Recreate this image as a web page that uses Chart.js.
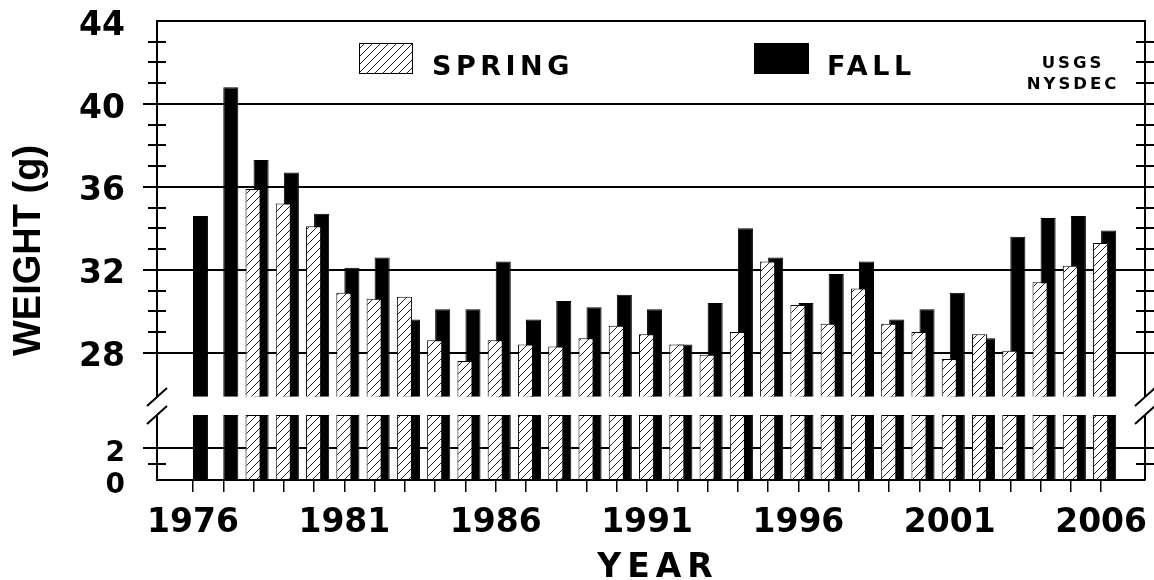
<!DOCTYPE html>
<html>
<head>
<meta charset="utf-8">
<script src="https://cdn.jsdelivr.net/npm/chart.js@4.4.1/dist/chart.umd.min.js"></script>
<style>
  html, body { margin: 0; padding: 0; background: #fff; }
  #chart { display: block; }
</style>
</head>
<body>
<canvas id="chart" width="1154" height="580"></canvas>
<script>
const years = [1976, 1977, 1978, 1979, 1980, 1981, 1982, 1983, 1984, 1985, 1986,
  1987, 1988, 1989, 1990, 1991, 1992, 1993, 1994, 1995, 1996, 1997, 1998, 1999,
  2000, 2001, 2002, 2003, 2004, 2005, 2006];
const spring = [null, null, 35.9, 35.2, 34.1, 30.9, 30.6, 30.7, 28.6, 27.6, 28.6,
  28.4, 28.3, 28.7, 29.3, 28.9, 28.4, 27.9, 29.0, 32.4, 30.3, 29.4, 31.1, 29.4,
  29.0, 27.7, 28.9, 28.1, 31.4, 32.2, 33.3];
const fall = [34.6, 40.8, 37.3, 36.7, 34.7, 32.1, 32.6, 29.6, 30.1, 30.1, 32.4,
  29.6, 30.5, 30.2, 30.8, 30.1, 28.4, 30.4, 34.0, 32.6, 30.4, 31.8, 32.4, 29.6,
  30.1, 30.9, 28.7, 33.6, 34.5, 34.6, 33.9];

const yearTickLabels = [1976, 1981, 1986, 1991, 1996, 2001, 2006];
const upperTickLabels = [28, 32, 36, 40, 44];
const upperMinorTicks = [29, 30, 31, 33, 34, 35, 37, 38, 39, 41, 42, 43];
const lowerTickLabels = [0, 2];
const lowerMinorTicks = [1];

// broken value axis: lower piece 0..4, upper piece 25..44
const LOWER_MAX = 4;
const UPPER_MIN = 25;
const UPPER_MAX = 44;
const UPPER_BASE = 25.88;   // bars of the upper piece start here, leaving the break gap

const X_MIN = 1974.81;
const X_MAX = 2007.45;
const BAR_SHIFT = 0.116;    // bar pairs sit a little right of the year ticks

const springLow = spring.map(v => v == null ? null : Math.min(v, LOWER_MAX));
const fallLow = fall.map(v => v == null ? null : Math.min(v, LOWER_MAX));

const CLEAR = 'rgba(0,0,0,0)';
const BOLD = 'DejaVu Sans';

function hatch() {
  const c = document.createElement('canvas');
  c.width = 8; c.height = 8;
  const g = c.getContext('2d');
  g.fillStyle = '#fff';
  g.fillRect(0, 0, 8, 8);
  g.strokeStyle = '#222';
  g.lineWidth = 1;
  g.beginPath();
  g.moveTo(0, 8); g.lineTo(8, 0);
  g.moveTo(-1, 1); g.lineTo(1, -1);
  g.moveTo(7, 9); g.lineTo(9, 7);
  g.stroke();
  return g.createPattern(c, 'repeat');
}
const springFill = hatch();

const barCommon = {
  xAxisID: 'xb',
  categoryPercentage: 0.53,
  barPercentage: 1.88,
  borderColor: '#000',
  borderWidth: 1,
};

// y axes: fixed width, and no extra room for half labels above/below
function fitY(s) {
  s.width = 157;
  s.paddingTop = 0;
  s.paddingBottom = 0;
}

const decor = {
  id: 'decor',
  afterDatasetsDraw(chart) {
    const { ctx, chartArea: a, scales: { yU, yL } } = chart;
    const gapTop = Math.round(yU.getPixelForValue(UPPER_BASE));
    const gapBottom = Math.round(yU.bottom);
    ctx.save();
    ctx.strokeStyle = '#000';
    ctx.lineWidth = 2;
    ctx.beginPath();
    [a.left, a.right].forEach(x => {
      ctx.moveTo(x, a.top); ctx.lineTo(x, gapTop);
      ctx.moveTo(x, gapBottom); ctx.lineTo(x, a.bottom);
    });
    ctx.moveTo(a.left - 1, a.top); ctx.lineTo(a.right + 1, a.top);
    ctx.stroke();

    // break marks
    ctx.beginPath();
    [a.left, a.right].forEach(x => {
      [gapTop, gapBottom].forEach(y => {
        ctx.moveTo(x - 10, y + 9); ctx.lineTo(x + 10, y - 9);
      });
    });
    ctx.stroke();

    // minor ticks cross both axes, major ones poke out on the right
    ctx.beginPath();
    const marks = [];
    upperMinorTicks.forEach(v => marks.push([yU.getPixelForValue(v), true]));
    lowerMinorTicks.forEach(v => marks.push([yL.getPixelForValue(v), true]));
    upperTickLabels.filter(v => v < UPPER_MAX).forEach(v => marks.push([yU.getPixelForValue(v), false]));
    lowerTickLabels.filter(v => v > 0).forEach(v => marks.push([yL.getPixelForValue(v), false]));
    marks.forEach(([py, minor]) => {
      const y = Math.round(py);
      if (minor) { ctx.moveTo(a.left - 9, y); ctx.lineTo(a.left + 9, y); }
      ctx.moveTo(a.right - 9, y); ctx.lineTo(a.right + 9, y);
    });
    ctx.stroke();
    ctx.restore();
  },
  afterDraw(chart) {
    const { ctx, chartArea: a } = chart;
    ctx.save();
    ctx.fillStyle = '#000';

    // y title
    ctx.save();
    ctx.translate(30, (a.top + a.bottom) / 2);
    ctx.rotate(-Math.PI / 2);
    ctx.font = 'bold 38px "Liberation Sans"';
    ctx.textAlign = 'center';
    ctx.textBaseline = 'middle';
    ctx.fillText('WEIGHT (g)', 0, 0);
    ctx.restore();

    // x title
    ctx.font = 'bold 33px "' + BOLD + '"';
    ctx.letterSpacing = '6px';
    ctx.textAlign = 'center';
    ctx.textBaseline = 'alphabetic';
    ctx.fillText('YEAR', 658, 577);

    // legend
    ctx.fillStyle = springFill;
    ctx.fillRect(359, 43, 54, 31);
    ctx.strokeStyle = '#000';
    ctx.lineWidth = 1;
    ctx.strokeRect(359.5, 43.5, 53, 30);
    ctx.fillStyle = '#000';
    ctx.fillRect(754, 43, 55, 31);
    ctx.font = 'bold 27px "' + BOLD + '"';
    ctx.letterSpacing = '4.5px';
    ctx.textAlign = 'left';
    ctx.fillText('SPRING', 432, 75);
    ctx.fillText('FALL', 827, 75);

    ctx.font = 'bold 16.5px "' + BOLD + '"';
    ctx.letterSpacing = '3px';
    ctx.textAlign = 'center';
    ctx.fillText('USGS', 1073, 68);
    ctx.fillText('NYSDEC', 1073, 89);
    ctx.restore();
  }
};

const ctx = document.getElementById('chart').getContext('2d');
const chart = new Chart(ctx, {
  type: 'bar',
  data: {
    labels: years,
    datasets: [
      { ...barCommon, label: 'SPRING', data: spring, yAxisID: 'yU', stack: 'spring', base: UPPER_BASE, backgroundColor: springFill },
      { ...barCommon, label: 'SPRING', data: springLow, yAxisID: 'yL', stack: 'spring', backgroundColor: springFill },
      { ...barCommon, label: 'FALL', data: fall, yAxisID: 'yU', stack: 'fall', base: UPPER_BASE, backgroundColor: '#000' },
      { ...barCommon, label: 'FALL', data: fallLow, yAxisID: 'yL', stack: 'fall', backgroundColor: '#000' },
    ],
  },
  options: {
    responsive: false,
    animation: false,
    layout: { padding: { left: 0, right: 9, top: 21, bottom: 0 } },
    plugins: {
      legend: { display: false },
      tooltip: { enabled: false },
    },
    scales: {
      x: {
        type: 'linear',
        position: 'bottom',
        min: X_MIN,
        max: X_MAX,
        offset: false,
        afterFit: s => { s.height = 100; },
        ticks: {
          stepSize: 1,
          autoSkip: false,
          maxTicksLimit: 100,
          includeBounds: false,
          maxRotation: 0,
          padding: 12,
          color: '#000',
          font: { family: BOLD, weight: 'bold', size: 33 },
          callback: v => yearTickLabels.includes(v) ? String(v) : '',
        },
        grid: {
          offset: false,
          drawOnChartArea: false,
          tickLength: 12,
          lineWidth: 1.5,
          color: c => (c.tick && years.includes(c.tick.value)) ? '#000' : CLEAR,
        },
        border: { display: true, color: '#000', width: 2 },
      },
      xb: {
        type: 'linear',
        display: false,
        min: X_MIN - BAR_SHIFT,
        max: X_MAX - BAR_SHIFT,
        offset: false,
        grid: { offset: false },
      },
      // left-hand stacked axes are laid out last-defined on top, so the lower piece comes first
      yL: {
        type: 'linear',
        position: 'left',
        stack: 'weight',
        stackWeight: 65,
        stacked: false,
        min: 0,
        max: LOWER_MAX,
        afterFit: fitY,
        ticks: {
          stepSize: 1,
          autoSkip: false,
          maxTicksLimit: 100,
          padding: 18,
          labelOffset: 6,
          color: '#000',
          font: { family: BOLD, weight: 'bold', size: 28 },
          callback: v => lowerTickLabels.includes(v) ? String(v) : '',
        },
        grid: {
          lineWidth: 2,
          tickLength: 14,
          color: c => (c.tick && c.tick.value > 0 && lowerTickLabels.includes(c.tick.value)) ? '#000' : CLEAR,
        },
        border: { display: false },
      },
      yU: {
        type: 'linear',
        position: 'left',
        stack: 'weight',
        stackWeight: 394,
        stacked: false,
        beginAtZero: false,
        min: UPPER_MIN,
        max: UPPER_MAX,
        afterFit: fitY,
        ticks: {
          stepSize: 1,
          autoSkip: false,
          maxTicksLimit: 100,
          padding: 18,
          labelOffset: 5,
          color: '#000',
          font: { family: BOLD, weight: 'bold', size: 33 },
          callback: v => upperTickLabels.includes(v) ? String(v) : '',
        },
        grid: {
          lineWidth: 2,
          tickLength: 14,
          color: c => (c.tick && upperTickLabels.includes(c.tick.value)) ? '#000' : CLEAR,
          tickColor: c => (c.tick && upperTickLabels.includes(c.tick.value) && c.tick.value < UPPER_MAX) ? '#000' : CLEAR,
        },
        border: { display: false },
      },
    },
  },
  plugins: [decor],
});
</script>
</body>
</html>
